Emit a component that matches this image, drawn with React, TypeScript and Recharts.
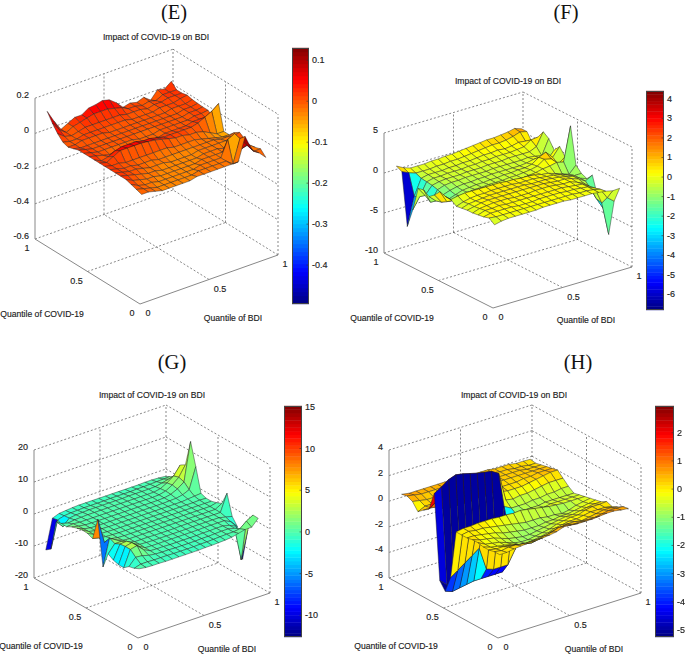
import { Scatter, ScatterChart, XAxis, YAxis } from 'recharts'

// quantile grid: rows go with COVID-19 quantile, columns with BDI quantile
const quantiles = [0.05, 0.1, 0.15, 0.2, 0.25, 0.3, 0.35, 0.4, 0.45, 0.5, 0.55, 0.6, 0.65, 0.7, 0.75, 0.8, 0.85, 0.9, 0.95]

const surfaceE = [
  [-.01, -.01, -.02, -.03, -.03, -.03, -.03, -.03, -.02, -.02, -.02, -.02, -.02, -.02, -.02, .11, .02, -.01, -.05],
  [0, -.01, -.02, -.03, -.03, -.03, -.03, -.03, -.03, -.02, -.02, -.02, -.02, -.02, -.05, .08, .03, -.02, -.02],
  [.01, -.01, -.02, -.02, -.03, -.03, -.03, -.03, -.03, -.03, -.02, -.02, -.02, -.02, .07, .09, -.01, 0, -.03],
  [.02, 0, -.01, -.02, -.02, -.03, -.03, -.03, -.03, -.03, -.03, -.02, -.02, -.02, -.02, -.02, -.02, 0, -.04],
  [.02, .01, 0, -.01, -.02, -.02, -.03, -.03, -.03, -.03, -.03, -.03, -.02, -.02, -.02, -.03, -.02, 0, -.02],
  [.02, .01, 0, 0, -.01, -.02, -.02, -.02, -.03, -.03, -.03, -.03, -.02, -.02, -.02, -.02, -.02, -.01, 0],
  [.02, .01, 0, 0, -.01, -.01, -.01, -.02, -.02, -.02, -.02, -.02, -.02, -.02, -.02, -.02, -.03, -.03, -.02],
  [.02, .01, .01, 0, 0, 0, 0, 0, 0, 0, -.01, -.01, -.01, -.01, -.02, -.03, -.04, -.05, -.05],
  [.02, .01, .03, .05, .05, .05, .05, .045, .04, .03, .02, .01, .01, 0, 0, -.01, -.03, -.05, -.05],
  [.02, 0, .01, .03, .04, .04, .04, .03, .03, .02, .01, .01, .01, .01, .01, .02, .04, .06, .09],
  [.02, .01, 0, -.01, -.01, -.01, -.01, -.01, -.01, -.01, -.01, 0, 0, 0, 0, .01, .01, 0, -.01],
  [.02, .01, 0, 0, 0, 0, 0, 0, -.01, -.01, -.01, 0, 0, 0, 0, 0, .01, .01, .015],
  [.02, .01, 0, 0, 0, 0, 0, 0, 0, 0, 0, 0, 0, 0, 0, 0, .01, .01, .015],
  [.01, 0, 0, 0, 0, 0, 0, 0, 0, 0, 0, 0, 0, 0, 0, 0, .01, .01, .017],
  [0, 0, .01, .01, .01, .01, 0, 0, 0, 0, 0, 0, 0, 0, 0, .01, .01, .01, .02],
  [.01, 0, 0, .01, .01, .01, .01, .01, .01, .01, 0, 0, 0, 0, .01, .01, .01, .02, .027],
  [.04, .01, 0, .01, .02, .02, .02, .02, .02, .02, .01, .01, .01, 0, .01, .01, .02, .02, .02],
  [.08, .03, 0, .02, .03, .04, .05, .05, .05, .04, .03, .01, .01, 0, .01, 0, .02, .02, .02],
  [.13, .06, 0, .02, .04, .04, .065, .07, .08, .07, .04, 0, .01, 0, .015, -.015, .03, .02, .05],
]

const surfaceF = [
  [-.2, 0, .1, .1, .1, .1, .1, .2, .2, .2, .2, .1, .1, .1, .1, 0, -.1, -.3, -.25],
  [.3, .2, .2, .2, .2, .2, .2, .2, .2, .2, .2, .2, .2, .1, .1, 0, -.2, -1.5, -2.2],
  [.1, .3, .3, .3, .3, .2, .2, .2, .3, .3, .3, .3, .2, .2, .1, 0, -.4, -2.5, -6.7],
  [0, .3, .3, .4, .3, .3, .3, .3, .3, .3, .3, .3, .3, .2, .1, 0, -.5, -2.3, -3.8],
  [-.1, .2, .3, .4, .4, .4, .3, .3, .3, .4, .4, .4, .3, .2, .2, -.1, -.5, -1.5, -2.7],
  [-.1, .1, .3, .4, .4, .4, .4, .4, .4, .4, .4, .4, .3, .2, .2, 0, -.3, -.8, -.33],
  [-.2, .1, .2, .3, .4, .4, .4, .4, .4, .4, .3, .3, .3, .2, .1, -.1, -.3, -.8, -1.1],
  [-.3, 0, .2, .3, .3, .4, .4, .4, .4, .3, .3, .3, .2, .1, 0, -.2, -.5, -.8, -.8],
  [.2, .4, .5, .5, .5, .5, .5, .5, .4, .4, .3, .3, .2, 0, -.1, -.4, -.7, -1, -.1],
  [.25, -.5, -.5, -.3, -.4, -.3, -.3, -.3, -.3, -.3, -.3, -.3, -.2, -.1, .1, .2, .4, .2, 4.46],
  [.5, -1, -1.1, -.8, -.6, -.5, -.5, -.4, -.4, -.4, -.3, -.3, -.2, -.1, .1, .7, .5, -.4, .25],
  [-.25, -1.4, -1.3, -1, -.7, -.6, -.5, -.5, -.4, -.4, -.3, -.3, -.2, -.2, 0, .6, 1, .1, 1.2],
  [-.8, -1.6, -1.1, -.8, -.6, -.5, -.5, -.4, -.4, -.3, -.3, -.3, -.3, -.3, -.2, 0, -.1, -.6, .4],
  [-.3, -2.1, -.8, -.5, -.4, -.4, -.3, -.3, -.3, -.3, -.2, -.2, -.2, -.2, -.2, -.1, -.2, -.4, 1.5],
  [-.46, -1.6, -.6, -.4, -.3, -.3, -.3, -.2, -.2, -.2, -.1, -.1, -.1, 0, 0, 0, 0, .4, 2],
  [-3.5, -2.1, -.5, -.3, -.3, -.2, -.2, -.2, -.1, -.1, 0, 0, .1, .1, .1, .2, .3, .9, 1],
  [-5.9, -2.4, -.4, -.2, -.2, -.2, -.1, -.1, 0, 0, .1, .2, .2, .3, .2, .3, .5, .4, -.1],
  [.6, .2, -.1, -.1, -.1, 0, 0, .1, .1, .2, .3, .4, .5, .6, .6, .7, .9, 1.2, 1],
  [.96, .5, .2, .2, .2, .3, .3, .4, .4, .5, .6, .7, .8, .9, .9, 1, 1.1, 1.3, 1],
]

const surfaceG = [
  [0, -.3, -.4, -.4, -.5, -.5, -.5, -.5, -.5, -.5, -.4, -.4, -.3, -.2, 0, .5, 1, 1, 3.1],
  [-.8, -.2, -.2, -.3, -.3, -.3, -.4, -.4, -.4, -.4, -.3, -.3, -.2, -.1, 0, 0, .3, 2, 3.2],
  [-1.2, 1, .8, .2, -.1, -.2, -.2, -.3, -.3, -.3, -.3, -.2, -.2, -.1, 0, 0, -.5, -11, -2.4],
  [-2.5, 2.5, 3, 1, 0, -.1, -.1, -.2, -.2, -.2, -.2, -.2, -.1, -.1, 0, 0, -.5, -1.5, -12.5],
  [-2.5, 2.5, 3, 1.2, 0, -.1, -.1, -.1, -.1, -.1, -.1, -.1, -.1, 0, 0, 0, 0, -1, -3.2],
  [-2, 2.3, 2.5, 1, .1, 0, -.1, -.1, -.1, -.1, -.1, -.1, 0, 0, 0, 0, 0, -.5, -1],
  [-1, 1.5, 1.5, .5, 0, 0, 0, -.1, -.1, -.1, -.1, 0, 0, 0, 0, 0, 0, 0, 5.3],
  [-6, 2.3, 1, .2, 0, 0, 0, 0, 0, 0, 0, 0, 0, 0, 0, 0, 0, 0, 1.2],
  [8, 0, .5, .1, 0, 0, 0, 0, 0, 0, 0, 0, 0, 0, 0, 0, 0, 0, .5],
  [1, .5, .2, .1, 0, 0, 0, 0, 0, 0, 0, 0, 0, 0, 0, 0, 0, 0, 0],
  [1.7, .6, .2, .1, 0, 0, 0, 0, 0, 0, 0, 0, 0, 0, 0, 0, 0, .1, 0],
  [1.8, .6, .2, .1, 0, 0, 0, 0, 0, 0, 0, 0, 0, 0, 0, 0, .2, .4, .6],
  [1.4, .5, .1, 0, 0, 0, 0, 0, 0, 0, 0, 0, 0, 0, .1, .2, .6, 1.5, 8],
  [.9, .4, .1, 0, 0, 0, 0, 0, 0, 0, 0, 0, 0, 0, .1, .5, 1.5, 3, 14.9],
  [0, .2, 0, 0, 0, 0, 0, 0, 0, 0, 0, 0, 0, 0, .1, .6, 1.8, 3.5, 6.7],
  [.1, -.5, -.2, -.1, 0, 0, 0, 0, 0, 0, 0, 0, 0, 0, 0, .4, 1.5, 3, 5.7],
  [-.3, -2.5, -.6, -.3, -.2, -.1, -.1, -.1, -.1, -.1, -.1, 0, 0, 0, 0, .1, .5, 1, 1.1],
  [-9.8, -1.4, -.8, -.6, -.5, -.4, -.4, -.4, -.4, -.3, -.3, -.3, -.3, -.2, -.2, -.1, 0, .1, .2],
  [-11, -1.8, -1, -.8, -.6, -.5, -.5, -.5, -.5, -.5, -.5, -.5, -.5, -.5, -.5, -.4, -.4, -.5, -.7],
]

const surfaceH = [
  [.1, .1, .2, .25, .3, .3, .35, .4, .5, .7, .65, .6, .6, .6, .65, .7, .7, .6, .55],
  [.1, 0, .1, .1, 0, 0, 0, .1, .2, .4, .4, .3, .3, .3, .3, .4, .5, .5, .45],
  [0, -.1, -.1, -.2, -.3, -.4, -.5, -.4, -.3, -.1, 0, .1, .1, 0, .1, .2, .3, .3, .2],
  [0, -.2, -.3, -.4, -.5, -.7, -.8, -.7, -.6, -.5, -.3, -.2, -.1, -.1, 0, .1, .1, .1, 0],
  [.1, -.2, -.3, -.4, -.6, -.8, -.9, -.9, -.8, -.7, -.6, -.4, -.3, -.2, -.2, 0, .1, .1, .15],
  [.1, -.1, -.2, -.3, -.5, -.7, -.8, -.9, -.9, -.8, -.7, -.6, -.5, -.4, -.4, -.3, -.2, -.1, -.1],
  [0, 0, -.1, -.2, -.3, -.5, -.6, -.7, -.8, -.8, -.8, -.7, -.7, -.6, -.6, -.5, -.4, -.3, -.2],
  [0, .1, 0, 0, -.1, -.2, -.3, -.4, -.5, -.6, -.6, -.6, -.7, -.7, -.8, -.7, -.5, -.4, -.3],
  [0, .1, .1, .15, .15, .15, .1, .1, .05, .1, 0, -.1, -.2, -.3, -.35, -.4, -.4, -.4, -.4],
  [-3.8, -3.4, -3, -2.6, -2.2, -4, -4.2, -4.2, -4.2, -3.2, -.8, -.6, -.6, -.6, -.5, -.5, -.5, -.5, -.5],
  [-5.1, -5.3, -5.2, -5.1, -5, -5, -5, -5, -5, -2.2, -.9, -.7, -.7, -.7, -.6, -.6, -.6, -.6, -.6],
  [-4.5, -5, -5, -5, -5, -5, -5, -5, -5, -.3, -.6, -.6, -.6, -.5, -.5, -.4, -.4, -.3, -.3],
  [2.07, 2.4, 2.8, 3, 2.9, 2.75, 2.6, 2.5, 2.4, 2.05, -.2, -.3, -.2, -.2, -.1, 0, .1, .1, .1],
  [.6, 1, .3, .2, .2, .2, .2, .3, .3, .3, .2, .1, .1, .1, .2, .3, .4, .5, .5],
  [.3, .3, .2, .2, .2, .2, .2, .3, .3, .4, .3, .2, .2, .2, .3, .3, .4, .4, .4],
  [-.06, .2, .2, .2, .2, .3, .3, .3, .4, .4, .4, .3, .3, .3, .3, .3, .3, .3, .3],
  [.5, .4, .3, .3, .3, .3, .3, .4, .4, .4, .4, .4, .3, .3, .3, .3, .2, .2, .2],
  [.7, .6, .5, .5, .5, .5, .5, .5, .5, .4, .4, .4, .4, .3, .3, .2, .2, .1, .1],
  [.6, .5, .5, .5, .5, .5, .5, .5, .5, .4, .4, .4, .4, .3, .3, .3, .2, .2, .17],
]

const zTicksE = [0.2, 0, -0.2, -0.4, -0.6]
const zTicksF = [5, 0, -5, -10]
const zTicksG = [20, 10, 0, -10, -20]
const zTicksH = [4, 2, 0, -2, -4, -6]

const barTicksE = [0.1, 0, -0.1, -0.2, -0.3, -0.4]
const barTicksF = [4, 3, 2, 1, 0, -1, -2, -3, -4, -5, -6]
const barTicksG = [15, 10, 5, 0, -5, -10]
const barTicksH = [2, 1, 0, -1, -2, -3, -4, -5]

const TITLE = 'Impact of COVID-19 on BDI'
const LABEL_Y = 'Quantile of COVID-19'
const LABEL_X = 'Quantile of BDI'
const FONT = '"Liberation Sans", Arial, sans-serif'
const BAR_PAD = 8

// where each box sits on the page
const panels = [
  {
    name: '(E)', namePos: [174, 18.6], titlePos: [156, 40], yLabelPos: [42, 317], xLabelPos: [233, 321],
    surface: surfaceE, zTicks: zTicksE, barTicks: barTicksE, range: [-0.495, 0.13],
    front: [140, 304], right: [278, 255], left: [35, 239], zPx: 176, zMin: -0.6,
    bar: { x: 292, y: 48, w: 17, h: 256 },
  },
  {
    name: '(F)', namePos: [566, 18.6], titlePos: [508, 84], yLabelPos: [392, 321], xLabelPos: [586, 323],
    surface: surfaceF, zTicks: zTicksF, barTicks: barTicksF, range: [-6.8, 4.4],
    front: [493, 308], right: [632, 267], left: [384, 253], zPx: 8, zMin: -10,
    bar: { x: 646, y: 91, w: 18, h: 219 },
  },
  {
    name: '(G)', namePos: [172, 369], titlePos: [152, 398], yLabelPos: [41, 649], xLabelPos: [227, 652],
    surface: surfaceG, zTicks: zTicksG, barTicks: barTicksG, range: [-12.6, 15.1],
    front: [138, 638], right: [270, 593], left: [34, 578], zPx: 3.2, zMin: -20,
    bar: { x: 284, y: 406, w: 18, h: 231 },
  },
  {
    name: '(H)', namePos: [578, 369], titlePos: [514, 398], yLabelPos: [396, 649], xLabelPos: [594, 652],
    surface: surfaceH, zTicks: zTicksH, barTicks: barTicksH, range: [-5.25, 2.95],
    front: [498, 638], right: [641, 593], left: [389, 578], zPx: 12.8, zMin: -6,
    bar: { x: 655, y: 406, w: 19, h: 231 },
  },
]

type Panel = (typeof panels)[number]

function jet(t: number) {
  const v = Math.min(1, Math.max(0, t))
  const ch = (c: number) => Math.round(255 * Math.min(1, Math.max(0, 1.5 - Math.abs(4 * v - c))))
  return `rgb(${ch(3)},${ch(2)},${ch(1)})`
}

function project(p: Panel, qx: number, qy: number, z: number) {
  const [fx, fy] = p.front
  return {
    x: fx + (p.right[0] - fx) * qx + (p.left[0] - fx) * qy,
    y: fy + (p.right[1] - fy) * qx + (p.left[1] - fy) * qy - (z - p.zMin) * p.zPx,
  }
}

// painter's order, far corner first; each face takes the colour of its lowest-index corner
function buildCells(p: Panel) {
  const cells = []
  const n = quantiles.length
  for (let j = n - 2; j >= 0; j--) {
    for (let i = n - 2; i >= 0; i--) {
      const corners = [[i, j], [i + 1, j], [i + 1, j + 1], [i, j + 1]].map(([a, b]) =>
        project(p, quantiles[a], quantiles[b], p.surface[b][a])
      )
      cells.push({
        x: corners[0].x,
        y: corners[0].y,
        corners,
        fill: jet((p.surface[j][i] - p.range[0]) / (p.range[1] - p.range[0])),
      })
    }
  }
  return cells
}

function CellShape({ cx, cy, payload }: any) {
  // the page chart maps one data unit to one pixel
  const points = payload.corners
    .map((c: { x: number; y: number }) => `${cx + c.x - payload.x},${cy + c.y - payload.y}`)
    .join(' ')
  return <polygon points={points} fill={payload.fill} stroke="#222" strokeWidth={0.45} strokeLinejoin="round" />
}

function TextShape({ cx, cy, payload }: any) {
  return (
    <text
      x={cx}
      y={cy}
      textAnchor={payload.anchor}
      fontFamily={payload.serif ? '"Liberation Serif", serif' : FONT}
      fontSize={payload.size}
      fill={payload.serif ? '#111' : '#222'}
      stroke={payload.serif ? 'none' : '#222'}
      strokeWidth={payload.serif ? 0 : 0.15}
    >
      {payload.text}
    </text>
  )
}

const NoDot = () => <g />
const dashed = { stroke: '#555', strokeWidth: 0.7, strokeDasharray: '2 2' }
const solid = { stroke: '#888', strokeWidth: 1 }

function boxLines(p: Panel) {
  const zMax = p.zTicks[0]
  const zMin = p.zTicks[p.zTicks.length - 1]
  const seg = (a: number[], b: number[]) => [project(p, a[0], a[1], a[2]), project(p, b[0], b[1], b[2])]
  const lines = [
    seg([0, 0.5, zMin], [1, 0.5, zMin]),
    seg([0.5, 0, zMin], [0.5, 1, zMin]),
    seg([0, 1, zMin], [1, 1, zMin]),
    seg([1, 0, zMin], [1, 1, zMin]),
    seg([0.5, 1, zMin], [0.5, 1, zMax]),
    seg([1, 1, zMin], [1, 1, zMax]),
    seg([1, 0.5, zMin], [1, 0.5, zMax]),
    seg([1, 0, zMin], [1, 0, zMax]),
  ]
  p.zTicks.slice(0, -1).forEach((z) => {
    lines.push(seg([0, 1, z], [1, 1, z]))
    lines.push(seg([1, 1, z], [1, 0, z]))
  })
  return lines
}

function axisLines(p: Panel) {
  const zMax = p.zTicks[0]
  const zMin = p.zTicks[p.zTicks.length - 1]
  return [
    [project(p, 0, 1, zMin), project(p, 0, 1, zMax)],
    [project(p, 0, 0, zMin), project(p, 1, 0, zMin)],
    [project(p, 0, 0, zMin), project(p, 0, 1, zMin)],
  ]
}

function panelTexts(p: Panel) {
  const zMin = p.zTicks[p.zTicks.length - 1]
  const out: any[] = [
    { x: p.namePos[0], y: p.namePos[1], text: p.name, anchor: 'middle', size: 20.5, serif: true },
    { x: p.titlePos[0], y: p.titlePos[1], text: TITLE, anchor: 'middle', size: 8.6 },
    { x: p.yLabelPos[0], y: p.yLabelPos[1], text: LABEL_Y, anchor: 'middle', size: 8.6 },
    { x: p.xLabelPos[0], y: p.xLabelPos[1], text: LABEL_X, anchor: 'middle', size: 8.6 },
  ]
  p.zTicks.forEach((z) => {
    const c = project(p, 0, 1, z)
    out.push({ x: c.x - 6, y: c.y, text: String(z), anchor: 'end', size: 9 })
  })
  ;[[1, '1', -8], [0.5, '0.5', -11], [0, '0', -8]].forEach(([q, t, dx]: any) => {
    const c = project(p, 0, q, zMin)
    out.push({ x: c.x + dx, y: c.y + 12, text: t, anchor: 'middle', size: 9 })
  })
  ;[[0, '0', 8], [0.5, '0.5', 11], [1, '1', 7]].forEach(([q, t, dx]: any) => {
    const c = project(p, q, 0, zMin)
    out.push({ x: c.x + dx, y: c.y + 12, text: t, anchor: 'middle', size: 9 })
  })
  return out
}

function ColorBar({ p }: { p: Panel }) {
  const [lo, hi] = p.range
  const stepSize = (hi - lo) / 64
  const stepPx = p.bar.h / 64
  const steps = Array.from({ length: 64 }, (_, k) => ({ t: 0.5, v: lo + (k + 0.5) * stepSize, fill: jet((k + 0.5) / 64) }))
  return (
    <div style={{ position: 'absolute', left: p.bar.x, top: p.bar.y - BAR_PAD }}>
      <ScatterChart
        width={p.bar.w + 30}
        height={p.bar.h + BAR_PAD * 2}
        margin={{ top: BAR_PAD, right: 0, bottom: BAR_PAD, left: 0 }}
      >
        <XAxis type="number" dataKey="t" domain={[0, 1]} hide />
        <YAxis
          type="number"
          dataKey="v"
          orientation="right"
          width={30}
          domain={[lo, hi]}
          ticks={p.barTicks}
          interval={0}
          axisLine={false}
          tickLine={false}
          tick={({ y, payload }: any) => (
            <g>
              <text x={p.bar.w + 3} y={y + 3} fontFamily={FONT} fontSize={9} fill="#222" stroke="#222" strokeWidth={0.15}>
                {String(payload.value)}
              </text>
              <line x1={p.bar.w - 2.5} x2={p.bar.w} y1={y} y2={y} stroke="#333" strokeWidth={0.6} />
            </g>
          )}
        />
        <Scatter
          data={steps}
          isAnimationActive={false}
          shape={({ cy, payload }: any) => (
            <rect x={0} y={cy - stepPx / 2 - 0.2} width={p.bar.w} height={stepPx + 0.4} fill={payload.fill} />
          )}
        />
      </ScatterChart>
      <div
        style={{
          position: 'absolute', left: 0, top: BAR_PAD, width: p.bar.w, height: p.bar.h,
          boxSizing: 'border-box', border: '0.7px solid #444',
        }}
      />
    </div>
  )
}

export default function App() {
  return (
    <div style={{ position: 'absolute', left: 0, top: 0, width: 685, height: 655, background: '#fff', filter: 'blur(0.3px)' }}>
      <ScatterChart width={685} height={655} margin={{ top: 0, right: 0, bottom: 0, left: 0 }}>
        <XAxis type="number" dataKey="x" domain={[0, 685]} hide />
        <YAxis type="number" dataKey="y" domain={[0, 655]} reversed hide />
        {panels.flatMap((p, pi) => [
          ...boxLines(p).map((seg, k) => (
            <Scatter key={`b${pi}-${k}`} data={seg} line={dashed} shape={NoDot} isAnimationActive={false} />
          )),
          ...axisLines(p).map((seg, k) => (
            <Scatter key={`a${pi}-${k}`} data={seg} line={solid} shape={NoDot} isAnimationActive={false} />
          )),
          <Scatter key={`s${pi}`} data={buildCells(p)} shape={CellShape} isAnimationActive={false} />,
          <Scatter key={`t${pi}`} data={panelTexts(p)} shape={TextShape} isAnimationActive={false} />,
        ])}
      </ScatterChart>
      {panels.map((p) => (
        <ColorBar key={p.name} p={p} />
      ))}
    </div>
  )
}
